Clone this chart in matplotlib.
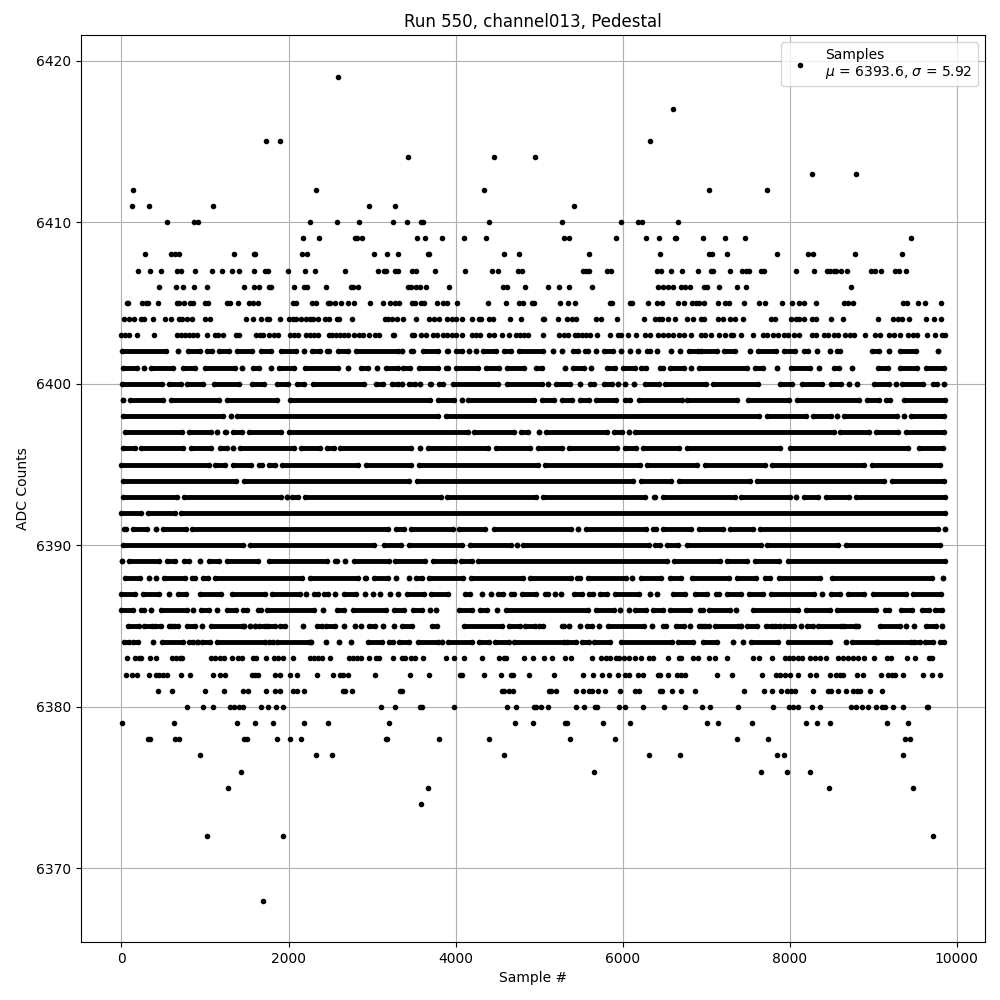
"""Pedestal scatter, run 550 channel013. ADC counts are integers, so samples sit on rows."""
import matplotlib
matplotlib.use("Agg")
import matplotlib.pyplot as plt

# sample numbers read per ADC level, sparse rows where single dots can be told apart
x_6419 = [2588]
x_6417 = [6604]
x_6415 = [1736, 1904, 6328]
x_6414 = [3436, 4456, 4948]
x_6413 = [8264, 8792]
x_6412 = [140, 2324, 4336, 7040, 7736]
x_6411 = [128, 332, 1100, 2960, 3272, 5416]
x_6410 = [548, 872, 920, 2252, 2576, 2840, 3248, 3424, 3592, 3608, 4396, 5272, 5980, 6184, 6232, 6664]
x_6409 = [2168, 2360, 2792, 2816, 2876, 3544, 3640, 3844, 4096, 4360, 5296, 5356, 5920, 6280, 6436, 6628, 6640,
          6968, 7232, 7472, 9452]
x_6408 = [284, 596, 644, 692, 1352, 1592, 1604, 2156, 2216, 3020, 3176, 3308, 3676, 3688, 4576, 4756, 5596, 6448,
          7040, 7076, 7256, 7856, 8216, 8276, 8780, 9344]
x_6407 = [200, 344, 476, 668, 716, 884, 1088, 1208, 1328, 1412, 1592, 1724, 1760, 1988, 2192, 2312, 2672, 3068,
          3140, 3164, 3272, 3308, 3484, 3532, 3760, 4108, 4432, 4504, 4744, 4792, 5524, 5560, 5596, 5812, 5860,
          6412, 6460, 6580, 6712, 6904, 7064, 7088, 7292, 7436, 7484, 7520, 7664, 7700, 8072, 8288, 8444, 8480,
          8528, 8552, 8612, 8684, 8972, 9020, 9092, 9260, 9308, 9392]
x_6406 = [452, 656, 740, 872, 1028, 1472, 1592, 1652, 1772, 1796, 2060, 2180, 2216, 2444, 2744, 2768, 2828, 3436,
          3472, 3532, 3580, 3652, 3928, 4564, 4612, 4828, 5104, 5236, 5356, 5632, 6424, 6484, 6544, 6604, 6700,
          6748, 6808, 6980, 7016, 7160, 7376, 7484, 8732]
x_6405 = [68, 80, 248, 296, 320, 440, 668, 692, 752, 824, 860, 1004, 1040, 1268, 1304, 1400, 1532, 1580, 1640, 2048,
          2084, 2276, 2324, 2468, 2492, 2552, 2624, 2708, 2780, 2972, 3128, 3212, 3272, 3320, 3484, 3520, 3592,
          3628, 3784, 3856, 3904, 4012, 4384, 4600, 4756, 4804, 4912, 4936, 5248, 5344, 5428, 5848, 5872, 6088,
          6112, 6304, 6412, 6472, 6664, 6736, 6832, 6880, 6920, 6980, 7148, 7232, 7280, 7460, 7640, 7712, 7912,
          8024, 8108, 8168, 8312, 8648, 8696, 8756, 9356, 9404, 9536, 9620, 9812]
x_6404 = [32, 92, 152, 236, 272, 380, 524, 596, 692, 728, 788, 848, 1004, 1064, 1496, 1580, 1676, 1748, 1772, 1904,
          2000, 2048, 2084, 2144, 2204, 2252, 2288, 2348, 2432, 2480, 2576, 2600, 2756, 3152, 3188, 3236, 3296,
          3376, 3532, 3688, 3748, 3808, 3904, 3952, 4000, 4072, 4192, 4276, 4300, 4396, 4444, 4648, 4780, 5044,
          5056, 5224, 5332, 5392, 5440, 5680, 5740, 5932, 6256, 6388, 6436, 6472, 6544, 6628, 6772, 6848, 6944,
          6980, 7148, 7208, 7292, 7352, 7448, 7784, 7832, 8012, 8072, 8108, 8168, 8264, 8312, 8492, 8636, 9056,
          9236, 9296, 9344, 9428, 9632, 9728, 9812]
x_6403 = [0, 40, 92, 188, 392, 668, 716, 764, 812, 860, 908, 1028, 1124, 1160, 1220, 1376, 1412, 1616, 1664, 1700,
          1772, 1832, 1880, 2012, 2060, 2108, 2204, 2252, 2300, 2348, 2480, 2516, 2564, 2612, 2660, 2708, 2780,
          2840, 2888, 2960, 3032, 3080, 3248, 3260, 3484, 3508, 3592, 3652, 3736, 3784, 3856, 3904, 3952, 4000,
          4072, 4192, 4240, 4288, 4396, 4456, 4552, 4636, 4720, 4768, 4816, 4864, 5044, 5236, 5296, 5344, 5428,
          5464, 5512, 5560, 5608, 5692, 5848, 5944, 5980, 6064, 6160, 6268, 6328, 6424, 6484, 6544, 6604, 6676,
          6736, 6820, 6944, 6992, 7064, 7160, 7232, 7304, 7328, 7424, 7568, 7688, 7736, 7808, 7868, 7928, 7976,
          8048, 8108, 8264, 8312, 8408, 8456, 8528, 8576, 8660, 8720, 8768, 8900, 9020, 9080, 9188, 9248, 9320,
          9416, 9476, 9528, 9644, 9740, 9824, 9860]
x_6383 = [68, 164, 212, 236, 344, 416, 608, 656, 704, 728, 1076, 1124, 1184, 1232, 1328, 1400, 1448, 1580, 1616,
          1736, 1832, 1880, 1940, 2048, 2252, 2300, 2348, 2396, 2492, 2720, 2768, 2816, 2864, 2960, 3044, 3080,
          3248, 3364, 3400, 3468, 3520, 3616, 3892, 3976, 4096, 4312, 4516, 4576, 4600, 4816, 4924, 5056, 5152,
          5308, 5380, 5632, 5740, 5800, 5856, 5920, 5956, 6016, 6076, 6148, 6220, 6316, 6364, 6544, 6676, 6700,
          6844, 6904, 7040, 7112, 7256, 7568, 7640, 7796, 7940, 7990, 8040, 8100, 8148, 8240, 8300, 8360, 8432,
          8576, 8640, 8700, 8760, 8820, 8888, 9016, 9164, 9212, 9404, 9500, 9668, 9704]
x_6382 = [56, 128, 188, 332, 416, 452, 500, 548, 716, 824, 1100, 1184, 1244, 1568, 1604, 1640, 1844, 1904, 2012,
          2096, 2336, 2528, 2612, 2648, 2708, 3032, 3460, 3688, 4048, 4072, 4336, 4540, 4660, 4684, 4876, 5176,
          5524, 5644, 5752, 5836, 5944, 6028, 6076, 6184, 6244, 6424, 6448, 6544, 6656, 6700, 6748, 7136, 7316,
          7676, 7844, 7890, 7940, 8000, 8096, 8240, 8312, 8480, 8552, 8600, 8636, 8804, 8876, 9092, 9176, 9224,
          9260, 9356, 9596, 9704, 9800]
x_6381 = [440, 608, 1004, 1232, 1460, 1520, 1736, 1844, 1904, 2048, 2096, 2180, 2648, 2672, 2756, 3332, 3364, 4552,
          4576, 4636, 4684, 5116, 5140, 5200, 5440, 5524, 5596, 5632, 5704, 5788, 5968, 6148, 6196, 6448, 6472,
          6592, 6700, 6868, 7460, 7700, 7796, 7892, 7964, 8012, 8060, 8276, 8456, 8492, 8576, 8672, 8756, 8804,
          8840, 8960, 9104]
x_6380 = [788, 980, 1100, 1304, 1352, 1412, 1460, 1676, 1760, 1856, 1940, 3104, 3272, 3580, 3604, 3976, 4612, 4720,
          4936, 4960, 5020, 5104, 5440, 5536, 5668, 5692, 5956, 6028, 6244, 6496, 6748, 6956, 7052, 7388, 7808,
          7988, 8036, 8096, 8264, 8360, 8732, 8792, 8864, 8936, 9032, 9104, 9140, 9236, 9356, 9644, 9656]
x_6379 = [8, 632, 1388, 1604, 1820, 2180, 2468, 3200, 4708, 4924, 5308, 5332, 5764, 6088, 7016, 7148, 7556, 8192,
          8324, 8480, 9164, 9416]
x_6378 = [320, 340, 644, 692, 1472, 1508, 1868, 2012, 2144, 3164, 3180, 3808, 4396, 5368, 5908, 7376, 7748, 9380,
          9440]
x_6377 = [944, 2324, 2516, 4576, 6316, 6688, 7856, 7928, 9356]
x_6376 = [1436, 5656, 7664, 7964, 8240]
x_6375 = [1280, 3676, 8468, 9476]
x_6374 = [3592]
x_6372 = [1028, 1940, 9716]
x_6368 = [1700]

# dense rows: dots overlap into stretches, so (first, last) sample of each stretch
runs_6402 = [(4, 528), (680, 680), (796, 940), (1020, 1088), (1172, 1288), (1384, 1568), (1668, 1796), (1912, 2088),
             (2180, 2180), (2280, 2380), (2460, 2488), (2592, 2716), (2804, 3308), (3364, 3364), (3468, 3496),
             (3608, 3792), (3900, 3912), (4000, 4072), (4156, 4156), (4240, 4240), (4328, 4484), (4580, 4664),
             (4760, 5044), (5168, 5168), (5276, 5276), (5408, 5464), (5552, 5584), (5680, 5680), (5780, 5884),
             (5976, 5976), (6088, 6088), (6188, 6188), (6288, 6324), (6412, 6412), (6580, 6580), (6688, 6688),
             (6800, 6904), (6940, 7136), (7212, 7348), (7528, 7528), (7624, 7844), (7932, 8064), (8168, 8216),
             (8324, 8324), (8484, 8484), (8572, 8600), (8988, 9068), (9188, 9188), (9324, 9512), (9780, 9780)]
runs_6401 = [(12, 188), (272, 272), (352, 620), (732, 880), (996, 1356), (1440, 1440), (1572, 1652), (1796, 1796),
             (1884, 2060), (2196, 2588), (2708, 2708), (2868, 2948), (3056, 3056), (3172, 3308), (3368, 3456),
             (3560, 3792), (3888, 3912), (4000, 4264), (4360, 4524), (4616, 4816), (4960, 5032), (5308, 5308),
             (5408, 5536), (5624, 5624), (5816, 5912), (6000, 6144), (6224, 6284), (6448, 6484), (6568, 6736),
             (6824, 6824), (6912, 7496), (7592, 7688), (7848, 7848), (8020, 8248), (8348, 8348), (8528, 8588),
             (8744, 8744), (9060, 9176), (9320, 9528), (9632, 9848)]
runs_6400 = [(4, 488), (572, 708), (788, 980), (1108, 1408), (1564, 1708), (1860, 1996), (2100, 2180), (2292, 2900),
             (3052, 3128), (3244, 3308), (3364, 3364), (3440, 3512), (3580, 3580), (3696, 3712), (3800, 3856),
             (3968, 4512), (4616, 5032), (5108, 5108), (5208, 5368), (5496, 5496), (5616, 5664), (5784, 5872),
             (5940, 5940), (6028, 6028), (6136, 6136), (6272, 6432), (6508, 6996), (7080, 7628), (7888, 8024),
             (8152, 8384), (8500, 8616), (8712, 8712), (8804, 8804), (9012, 9188), (9276, 9276), (9352, 9596),
             (9720, 9768), (9852, 9852)]
runs_6399 = [(12, 12), (100, 500), (588, 1168), (1260, 1860), (2020, 3696), (3788, 3984), (4076, 4076), (4148, 4944),
             (5040, 5176), (5280, 5400), (5496, 5604), (5688, 5920), (6024, 6084), (6200, 6716), (6776, 7376),
             (7500, 7988), (8088, 8832), (8928, 9068), (9160, 9208), (9376, 9864)]
runs_6398 = [(12, 1220), (1308, 1308), (1388, 3792), (3888, 7640), (7728, 8200), (8280, 8496), (8568, 8568),
             (8652, 9288), (9368, 9368), (9460, 9848)]
runs_6397 = [(36, 728), (804, 1076), (1148, 1148), (1236, 1252), (1340, 1448), (1524, 1916), (2004, 4144),
             (4220, 4696), (4788, 4864), (5000, 5000), (5088, 5816), (5896, 5992), (6072, 6072), (6148, 8528),
             (8608, 8956), (9040, 9304), (9400, 9848)]
runs_6396 = [(12, 156), (228, 740), (828, 1076), (1180, 1268), (1340, 1340), (1420, 2060), (2148, 2380),
             (2460, 2540), (2620, 3472), (3572, 3572), (3668, 4384), (4480, 4888), (4988, 5272), (5360, 5932),
             (6024, 6160), (6248, 6676), (6768, 7888), (8000, 9416), (9552, 9840)]
runs_6395 = [(0, 1048), (1120, 1244), (1332, 1556), (1644, 1688), (1764, 1836), (1920, 2828), (2932, 3472),
             (3560, 4992), (5072, 6208), (6288, 6896), (6992, 7704), (7792, 8888), (8984, 9800)]
runs_6394 = [(20, 1372), (1464, 3448), (3536, 6124), (6224, 6584), (6680, 7528), (7608, 9128), (9228, 9848)]
runs_6393 = [(12, 668), (744, 1916), (1980, 1980), (2044, 2108), (2196, 3824), (3904, 4960), (5048, 6272),
             (6376, 6392), (6480, 7344), (7424, 8000), (8076, 8076), (8168, 8344), (8432, 8712), (8800, 9864)]
runs_6392 = [(0, 236), (312, 636), (708, 9856)]
runs_6391 = [(24, 48), (140, 308), (408, 408), (496, 768), (844, 3188), (3284, 3384), (3464, 3964), (4040, 4352),
             (4460, 5384), (5468, 5468), (5568, 6284), (6368, 6404), (6480, 6824), (6912, 7208), (7288, 7568),
             (7648, 9784), (9864, 9864)]
runs_6390 = [(12, 1460), (1540, 3020), (3144, 3352), (3440, 4072), (4168, 4664), (4732, 4732), (4808, 6312),
             (6388, 6444), (6536, 6664), (6768, 7656), (7736, 8584), (8672, 9800)]
runs_6389 = [(4, 4), (84, 448), (540, 644), (748, 812), (940, 940), (1052, 1172), (1260, 1636), (1764, 2460),
             (2552, 2580), (2672, 2672), (2780, 3204), (3276, 3632), (3736, 3992), (4068, 4192), (4268, 6528),
             (6616, 7168), (7248, 7496), (7584, 7880), (7980, 9864)]
runs_6388 = [(44, 216), (328, 328), (408, 408), (504, 756), (844, 876), (980, 1036), (1120, 2164), (2252, 2828),
             (2916, 2932), (3020, 3188), (3288, 3288), (3440, 3440), (3528, 3604), (3688, 4084), (4180, 4804),
             (4888, 5384), (5456, 5496), (5588, 6040), (6116, 6116), (6224, 6464), (6568, 6704), (6832, 7276),
             (7368, 7596), (7712, 7768), (7872, 8368), (8504, 9704), (9840, 9840)]
runs_6387 = [(0, 156), (252, 444), (568, 568), (672, 768), (936, 1188), (1320, 1716), (1800, 2140), (2212, 2212),
             (2308, 2348), (2428, 2468), (2556, 2556), (2660, 2812), (2912, 2912), (3016, 3016), (3096, 3096),
             (3212, 3212), (3312, 3312), (3416, 3624), (3712, 3916), (4112, 4176), (4312, 4312), (4424, 4424),
             (4508, 4564), (4668, 4704), (4800, 4964), (5072, 5104), (5192, 5192), (5264, 5264), (5424, 5512),
             (5600, 5644), (5728, 5816), (5912, 6200), (6332, 6332), (6416, 6416), (6608, 6744), (6864, 7016),
             (7120, 7160), (7248, 7416), (7520, 7688), (7776, 8288), (8392, 8392), (8500, 8600), (8696, 8888),
             (9000, 9392), (9480, 9816)]
runs_6386 = [(0, 140), (228, 268), (356, 356), (468, 780), (860, 860), (948, 1048), (1144, 1144), (1260, 1372),
             (1460, 1508), (1636, 1676), (1748, 2308), (2408, 2408), (2580, 2668), (2772, 3172), (3260, 3384),
             (3488, 3604), (3692, 3692), (3768, 3768), (4040, 4192), (4296, 4376), (4500, 4500), (4608, 5584),
             (5680, 5896), (5968, 5968), (6080, 6080), (6148, 6284), (6368, 6484), (6568, 6804), (6924, 6960),
             (7032, 7288), (7364, 7364), (7568, 8104), (8200, 8480), (8568, 9036), (9140, 9188), (9332, 9464),
             (9592, 9668), (9748, 9828)]
runs_6385 = [(80, 212), (272, 368), (404, 476), (572, 596), (632, 680), (788, 884), (968, 968), (1076, 1440),
             (1472, 1472), (1544, 1544), (1604, 1604), (1652, 1720), (1760, 1844), (1904, 1964), (2168, 2168),
             (2336, 2396), (2444, 2552), (2660, 2660), (2792, 2792), (2864, 2864), (2960, 3032), (3128, 3128),
             (3260, 3260), (3356, 3476), (3724, 3784), (4096, 4556), (4636, 4776), (4828, 4948), (4996, 5044),
             (5272, 5296), (5356, 5356), (5488, 5488), (5572, 5632), (5716, 5716), (5824, 6256), (6352, 6352),
             (6484, 6520), (6640, 6736), (6808, 6808), (6912, 6948), (6988, 7040), (7112, 7388), (7424, 7424),
             (7488, 7608), (7720, 7788), (7828, 7888), (7928, 8048), (8140, 8140), (8208, 8280), (8340, 8620),
             (8648, 8780), (8800, 8816), (9080, 9320), (9392, 9392), (9488, 9488), (9632, 9760), (9824, 9824)]
runs_6384 = [(28, 92), (140, 200), (380, 380), (488, 740), (812, 852), (900, 920), (964, 1060), (1148, 1720),
             (1772, 1820), (1868, 2240), (2264, 2264), (2444, 2444), (2600, 2600), (2744, 2744), (2948, 3120),
             (3200, 3248), (3320, 3448), (3556, 3796), (3844, 3844), (3916, 4192), (4276, 4396), (4468, 4636),
             (4696, 5296), (5332, 5440), (5512, 5596), (5656, 5848), (5980, 6596), (6664, 6844), (6968, 7136),
             (7328, 7328), (7448, 7448), (7544, 7868), (7976, 8480), (8672, 8672), (8744, 9032), (9060, 9460),
             (9496, 9568), (9624, 9716), (9800, 9848)]

SPARSE = [(6419, x_6419), (6417, x_6417), (6415, x_6415), (6414, x_6414), (6413, x_6413), (6412, x_6412),
          (6411, x_6411), (6410, x_6410), (6409, x_6409), (6408, x_6408), (6407, x_6407), (6406, x_6406),
          (6405, x_6405), (6404, x_6404), (6403, x_6403), (6383, x_6383), (6382, x_6382), (6381, x_6381),
          (6380, x_6380), (6379, x_6379), (6378, x_6378), (6377, x_6377), (6376, x_6376), (6375, x_6375),
          (6374, x_6374), (6372, x_6372), (6368, x_6368)]
DENSE = [(6402, runs_6402), (6401, runs_6401), (6400, runs_6400), (6399, runs_6399), (6398, runs_6398),
         (6397, runs_6397), (6396, runs_6396), (6395, runs_6395), (6394, runs_6394), (6393, runs_6393),
         (6392, runs_6392), (6391, runs_6391), (6390, runs_6390), (6389, runs_6389), (6388, runs_6388),
         (6387, runs_6387), (6386, runs_6386), (6385, runs_6385), (6384, runs_6384)]


def main():
    xs, ys = [], []
    for level, row in SPARSE:
        xs += row
        ys += [level] * len(row)
    fig, ax = plt.subplots(figsize=(10, 10), dpi=100)
    for level, runs in DENSE:
        for a, b in runs:
            xs += [a, b]
            ys += [level, level]
        # a bit under the 4 pt drawn width of the '.' marker, rows look scalloped in the original
        ax.hlines([level] * len(runs), [r[0] for r in runs], [r[1] for r in runs], color="k", lw=3.5, zorder=2)
    ax.plot(xs, ys, ".", color="k", label="Samples\n$\\mu$ = 6393.6, $\\sigma$ = 5.92")
    ax.set_xlim(-485, 10341)
    ax.set_ylim(6365.45, 6421.58)
    ax.set_xlabel("Sample #")
    ax.set_ylabel("ADC Counts")
    ax.set_title("Run 550, channel013, Pedestal")
    ax.grid(True)
    ax.legend(loc="upper right")
    fig.subplots_adjust(left=0.081, right=0.985, top=0.965, bottom=0.058)
    fig.savefig("out.png")


if __name__ == "__main__":
    main()
